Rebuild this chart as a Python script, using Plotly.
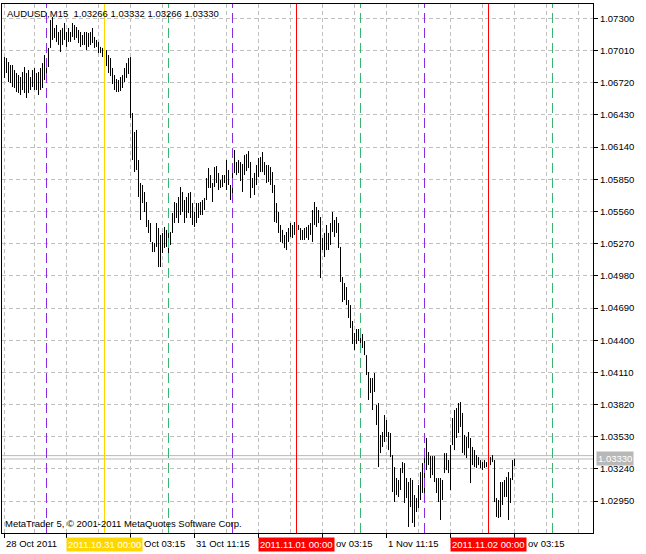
import plotly.graph_objects as go

# ---------------- data (AUDUSD, M15) ----------------
bar_high = [
    1.06951, 1.06942, 1.06906, 1.06879, 1.06879, 1.06834, 1.06807, 1.06789, 1.06771, 1.06816,
    1.06861, 1.06807, 1.06834, 1.06771, 1.06834, 1.06852, 1.06807, 1.06816, 1.06852, 1.06897,
    1.06969, 1.06906, 1.07033, 1.07285, 1.07312, 1.07213, 1.07240, 1.07177, 1.07195, 1.07213,
    1.07258, 1.07177, 1.07213, 1.07177, 1.07258, 1.07240, 1.07222, 1.07195, 1.07177, 1.07150,
    1.07177, 1.07177, 1.07168, 1.07177, 1.07213, 1.07132, 1.07105, 1.07087, 1.07042, 1.07033,
    1.07051, 1.07014, 1.06969, 1.06942, 1.06852, 1.06789, 1.06753, 1.06744, 1.06771, 1.06789,
    1.06852, 1.06897, 1.06942, 1.06951, 1.06447, 1.06276, 1.06294, 1.06023, 1.05816, 1.05798,
    1.05735, 1.05645, 1.05483, 1.05456, 1.05285, 1.05276, 1.05456, 1.05411, 1.05348, 1.05366,
    1.05420, 1.05393, 1.05393, 1.05375, 1.05546, 1.05645, 1.05636, 1.05690, 1.05780, 1.05735,
    1.05663, 1.05690, 1.05726, 1.05735, 1.05636, 1.05555, 1.05636, 1.05636, 1.05645, 1.05663,
    1.05681, 1.05861, 1.05951, 1.05888, 1.05816, 1.05960, 1.05969, 1.05906, 1.05843, 1.05888,
    1.05888, 1.06023, 1.05933, 1.05798, 1.05915, 1.06113, 1.06005, 1.06023, 1.06005, 1.05987,
    1.06068, 1.06077, 1.06104, 1.06005, 1.05861, 1.05906, 1.05978, 1.06041, 1.06050, 1.06095,
    1.06005, 1.05978, 1.05978, 1.05960, 1.05915, 1.05798, 1.05636, 1.05555, 1.05438, 1.05393,
    1.05348, 1.05375, 1.05411, 1.05456, 1.05438, 1.05465, 1.05465, 1.05438, 1.05411, 1.05393,
    1.05411, 1.05420, 1.05438, 1.05456, 1.05573, 1.05645, 1.05600, 1.05573, 1.05510, 1.05321,
    1.05366, 1.05438, 1.05366, 1.05456, 1.05555, 1.05483, 1.05510, 1.05456, 1.05240, 1.04969,
    1.04915, 1.04879, 1.04762, 1.04717, 1.04573, 1.04465, 1.04501, 1.04501, 1.04483, 1.04456,
    1.04393, 1.04266, 1.04113, 1.04059, 1.04059, 1.04104, 1.03816, 1.03834, 1.03546, 1.03573,
    1.03726, 1.03681, 1.03573, 1.03564, 1.03365, 1.03257, 1.03158, 1.03140, 1.03248, 1.03302,
    1.03293, 1.03158, 1.03122, 1.03158, 1.03140, 1.03005, 1.02978, 1.03095, 1.03212, 1.03293,
    1.03338, 1.03519, 1.03392, 1.03356, 1.03356, 1.03356, 1.03158, 1.03158, 1.03158, 1.03140,
    1.03383, 1.03383, 1.03320, 1.03455, 1.03699, 1.03771, 1.03789, 1.03834, 1.03843, 1.03744,
    1.03546, 1.03528, 1.03573, 1.03519, 1.03438, 1.03410, 1.03365, 1.03347, 1.03320, 1.03302,
    1.03320, 1.03302, 1.03338, 1.03347, 1.03365, 1.03320, 1.02978, 1.02960, 1.03122, 1.03122,
    1.03140, 1.03167, 1.03212, 1.03158, 1.03320, 1.03332,
]
bar_low = [
    1.06762, 1.06807, 1.06726, 1.06717, 1.06681, 1.06672, 1.06636, 1.06627, 1.06609, 1.06654,
    1.06627, 1.06582, 1.06627, 1.06654, 1.06681, 1.06654, 1.06654, 1.06609, 1.06654, 1.06672,
    1.06744, 1.06789, 1.06861, 1.07033, 1.07105, 1.07123, 1.07087, 1.07060, 1.06996, 1.07060,
    1.07105, 1.07042, 1.07087, 1.07087, 1.07132, 1.07105, 1.07123, 1.07078, 1.07042, 1.07060,
    1.07060, 1.07014, 1.07042, 1.07060, 1.07078, 1.07033, 1.07042, 1.06987, 1.06987, 1.06951,
    1.06924, 1.06870, 1.06807, 1.06780, 1.06708, 1.06654, 1.06636, 1.06636, 1.06645, 1.06672,
    1.06726, 1.06762, 1.06798, 1.06402, 1.06023, 1.05915, 1.05933, 1.05690, 1.05483, 1.05636,
    1.05555, 1.05420, 1.05366, 1.05285, 1.05194, 1.05194, 1.05240, 1.05059, 1.05059, 1.05185,
    1.05231, 1.05240, 1.05140, 1.05258, 1.05366, 1.05456, 1.05501, 1.05456, 1.05528, 1.05555,
    1.05456, 1.05501, 1.05546, 1.05501, 1.05438, 1.05420, 1.05456, 1.05501, 1.05528, 1.05528,
    1.05573, 1.05663, 1.05771, 1.05771, 1.05645, 1.05780, 1.05816, 1.05753, 1.05771, 1.05780,
    1.05816, 1.05753, 1.05798, 1.05663, 1.05663, 1.05906, 1.05888, 1.05906, 1.05834, 1.05735,
    1.05888, 1.05924, 1.05951, 1.05681, 1.05771, 1.05708, 1.05798, 1.05870, 1.05915, 1.05915,
    1.05888, 1.05816, 1.05825, 1.05798, 1.05726, 1.05465, 1.05456, 1.05366, 1.05285, 1.05276,
    1.05231, 1.05212, 1.05285, 1.05330, 1.05321, 1.05348, 1.05375, 1.05393, 1.05303, 1.05303,
    1.05303, 1.05321, 1.05303, 1.05348, 1.05285, 1.05438, 1.05420, 1.05456, 1.04960, 1.05212,
    1.05149, 1.05212, 1.05212, 1.05258, 1.05375, 1.05330, 1.05366, 1.05231, 1.04924, 1.04744,
    1.04762, 1.04717, 1.04600, 1.04510, 1.04366, 1.04311, 1.04366, 1.04393, 1.04357, 1.04330,
    1.04266, 1.04086, 1.03861, 1.03924, 1.03771, 1.03933, 1.03636, 1.03257, 1.03383, 1.03438,
    1.03483, 1.03528, 1.03410, 1.03347, 1.03032, 1.02942, 1.03005, 1.02987, 1.03050, 1.03203,
    1.02933, 1.02978, 1.02717, 1.02897, 1.02753, 1.02717, 1.02852, 1.02888, 1.02960, 1.03023,
    1.02987, 1.03230, 1.03275, 1.03158, 1.03185, 1.03122, 1.03023, 1.02942, 1.02780, 1.02960,
    1.03203, 1.03230, 1.03203, 1.03050, 1.03455, 1.03410, 1.03519, 1.03564, 1.03618, 1.03383,
    1.03365, 1.03338, 1.03428, 1.03113, 1.03275, 1.03257, 1.03248, 1.03275, 1.03248, 1.03230,
    1.03248, 1.03257, 1.03266, 1.03275, 1.03302, 1.02942, 1.02807, 1.02798, 1.02807, 1.02915,
    1.02987, 1.02987, 1.02780, 1.02933, 1.03140, 1.03266,
]

symbol = "AUDUSD,M15"
last_ohlc = [1.03266, 1.03332, 1.03266, 1.03330]
bid_price = 1.03330
ask_price = 1.03360

price_ticks = [1.07300, 1.07010, 1.06720, 1.06430, 1.06140, 1.05850, 1.05560, 1.05270,
               1.04980, 1.04690, 1.04400, 1.04110, 1.03820, 1.03530, 1.03240, 1.02950]

time_tick_bars = [0, 31, 63, 95, 127, 159, 191, 223, 255]
# visible parts of the time-scale labels (the rest is covered by the date boxes)
time_label_bars = [0, 63, 95, 159, 191, 255]
time_label_text = ["28 Oct 2011", "Oct 03:15", "31 Oct 11:15",
                   "ov 03:15", "1 Nov 11:15", "ov 03:15"]
minor_grid_bars = [15, 47, 79, 111, 143, 175, 207, 239, 271, 287]

day_start_bars = [50, 146, 242]
day_start_text = ["2011.10.31 00:00", "2011.11.01 00:00", "2011.11.02 00:00"]
session_0800_bars = [82, 178, 274]
session_1600_bars = [21, 114, 210]

copyright_text = "MetaTrader 5, © 2001-2011 MetaQuotes Software Corp."

# ---------------- figure ----------------
FONT = "Liberation Sans"
FS = 9.5

xs, ys = [], []
for i, (h, l) in enumerate(zip(bar_high, bar_low)):
    xs += [i, i, None]
    ys += [l, h, None]

fig = go.Figure()
fig.add_trace(go.Scatter(x=xs, y=ys, mode="lines",
                         line=dict(color="black", width=1),
                         hoverinfo="skip", showlegend=False))

shapes = []
for p in (bid_price, ask_price):
    shapes.append(dict(type="line", xref="paper", x0=0, x1=1, yref="y", y0=p, y1=p,
                       line=dict(color="#b8b8b8", width=1), layer="below"))
day_colors = ["#FFD700", "#FF0000", "#FF0000"]
for b, c in zip(day_start_bars, day_colors):
    shapes.append(dict(type="line", xref="x", x0=b, x1=b, yref="paper", y0=0, y1=1,
                       line=dict(color=c, width=1)))
for b in session_0800_bars:
    shapes.append(dict(type="line", xref="x", x0=b, x1=b, yref="paper", y0=0, y1=1,
                       line=dict(color="#3CB371", width=1, dash="10px,5px")))
for b in session_1600_bars:
    shapes.append(dict(type="line", xref="x", x0=b, x1=b, yref="paper", y0=0, y1=1,
                       line=dict(color="#8A2BE2", width=1, dash="10px,5px")))

annotations = []
header = symbol + "\u00a0\u00a0" + " ".join(f"{v:.5f}" for v in last_ohlc)
annotations.append(dict(text=header, xref="paper", yref="paper", x=0, y=1,
                        xanchor="left", yanchor="top", xshift=3, yshift=-2,
                        showarrow=False, font=dict(family=FONT, size=FS, color="black")))
annotations.append(dict(text=copyright_text, xref="paper", yref="paper", x=0, y=0,
                        xanchor="left", yanchor="bottom", xshift=1, yshift=2,
                        showarrow=False, font=dict(family=FONT, size=FS, color="black")))
label_shift = [0, 12, 0, 12, 0, 12]
for b, t, s in zip(time_label_bars, time_label_text, label_shift):
    annotations.append(dict(text=t, xref="x", yref="paper", x=b, y=0,
                            xanchor="left", yanchor="top", yshift=-3, xshift=s - 1,
                            showarrow=False, font=dict(family=FONT, size=FS, color="black")))
for b, t, c in zip(day_start_bars, day_start_text, day_colors):
    annotations.append(dict(text=t, xref="x", yref="paper", x=b, y=0,
                            xanchor="center", yanchor="top", yshift=-4,
                            bgcolor=c, borderpad=1, showarrow=False,
                            font=dict(family=FONT, size=FS, color="white")))
annotations.append(dict(text=f"{bid_price:.5f}", xref="paper", yref="y", x=1, y=bid_price,
                        xanchor="left", yanchor="middle", xshift=3,
                        bgcolor="#b8b8b8", borderpad=1, showarrow=False,
                        font=dict(family=FONT, size=FS, color="white")))

fig.update_layout(
    width=646, height=554,
    margin=dict(l=2, r=53, t=4, b=21),
    paper_bgcolor="white", plot_bgcolor="white",
    font=dict(family=FONT, size=FS, color="black"),
    shapes=shapes, annotations=annotations,
    showlegend=False,
)
fig.update_xaxes(
    range=[-1.25, 294.25], showline=True, mirror=True, linecolor="black", linewidth=1,
    tickmode="array", tickvals=time_tick_bars, showticklabels=False,
    ticks="outside", ticklen=4, tickcolor="black",
    showgrid=True, gridcolor="#c0c0c0", griddash="4px,3px", gridwidth=1,
    minor=dict(tickmode="array", tickvals=minor_grid_bars, showgrid=True,
               gridcolor="#c0c0c0", griddash="4px,3px", ticks=""),
    zeroline=False, fixedrange=True,
)
fig.update_yaxes(
    range=[1.02663, 1.07429], side="right", showline=True, mirror=True,
    linecolor="black", linewidth=1,
    tickmode="array", tickvals=price_ticks, ticktext=[f"{v:.5f}" for v in price_ticks],
    ticks="outside", ticklen=4, tickcolor="black",
    tickfont=dict(family=FONT, size=FS, color="black"),
    showgrid=True, gridcolor="#c0c0c0", griddash="4px,3px", gridwidth=1,
    zeroline=False, fixedrange=True,
)

fig.write_html("out.html", config={"displayModeBar": False},
               post_script="document.body.style.margin='0';document.body.style.padding='0';")
